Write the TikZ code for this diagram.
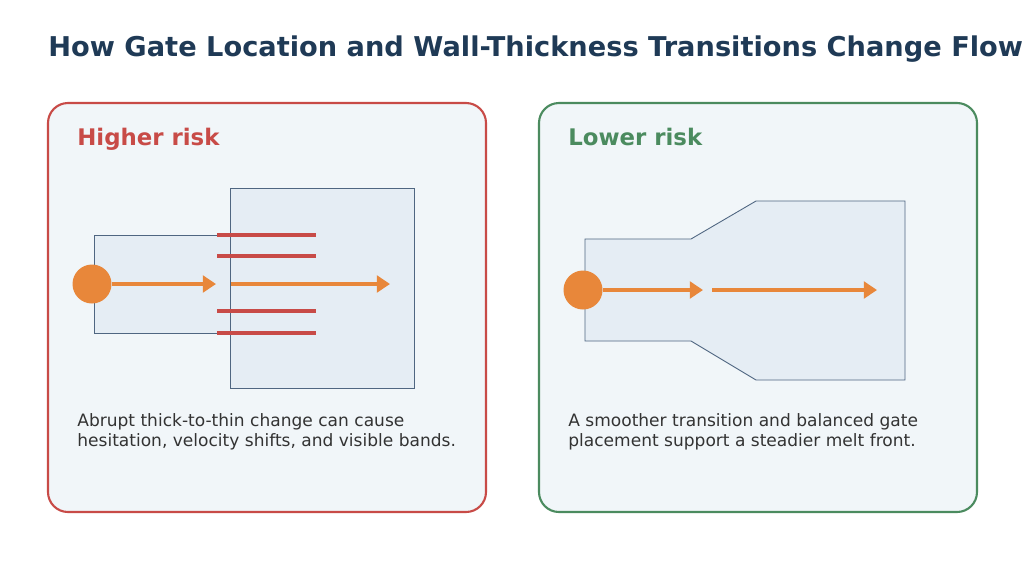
\documentclass[tikz,border=0pt]{standalone}
\usepackage{fontspec}
\setmainfont{DejaVu Sans}
\usepackage{xcolor}
\usetikzlibrary{positioning,arrows.meta}

\definecolor{navy}{HTML}{1F3A56}
\definecolor{riskred}{HTML}{C84B47}
\definecolor{riskgreen}{HTML}{4B8B5F}
\definecolor{panelfill}{HTML}{F1F6F9}
\definecolor{partfill}{HTML}{E5EDF4}
\definecolor{partline}{HTML}{4F6681}
\definecolor{meltorange}{HTML}{E8873A}
\definecolor{notegray}{HTML}{333333}

\begin{document}
\begin{tikzpicture}[x=0.02cm, y=-0.02cm,
    panel/.style={rounded corners=0.4cm, line width=1.2pt, fill=panelfill},
    part/.style={draw=partline, fill=partfill, line width=0.5pt},
    band/.style={draw=riskred, line width=2.3pt},
    gate/.style={circle, fill=meltorange, minimum size=0.78cm, inner sep=0pt},
    flow/.style={draw=meltorange, line width=2.4pt,
                 -{Triangle[length=7.5pt,width=9.5pt]}},
    head/.style={font=\bfseries\fontsize{13}{15}\selectfont, inner sep=0pt,
                 anchor=base west},
    note/.style={font=\fontsize{9.7}{11.4}\selectfont, text=notegray,
                 inner sep=0pt, anchor=north west, align=left},
]
\useasboundingbox[fill=white] (0,0) rectangle (1024,576);

\node[anchor=base west, inner sep=0pt, text=navy,
      font=\bfseries\fontsize{15.5}{18}\selectfont] (title) at (48,56)
      {How Gate Location and Wall-Thickness Transitions Change Flow};

% higher risk panel
\draw[panel, draw=riskred] (48,103) rectangle (486,512);
\node[head, text=riskred] (hL) at (77,145) {Higher risk};
\draw[part] (94,235) rectangle (230,333);
\draw[part] (230,188) rectangle (414,388);
\foreach \yy in {235,256,311,333}
  \draw[band] (217,\yy) -- (316,\yy);
\node[gate] (gL) at (92,284) {};
\coordinate (fL1) at (216,284);
\coordinate (fL2) at (231,284);
\coordinate (fL3) at (390,284);
\draw[flow] (gL) -- (fL1);
\draw[flow] (fL2) -- (fL3);
\node[note] (nL) at (77,413) {Abrupt thick-to-thin change can cause\\
  hesitation, velocity shifts, and visible bands.};

% lower risk panel
\draw[panel, draw=riskgreen] (539,103) rectangle (977,512);
\node[head, text=riskgreen] (hR) at (568,145) {Lower risk};
\draw[part] (585,239) -- (691,239) -- (756,201) -- (905,201) -- (905,380)
  -- (756,380) -- (691,341) -- (585,341) -- cycle;
\node[gate] (gR) at (583,290) {};
\coordinate (fR1) at (703,290);
\coordinate (fR2) at (712,290);
\coordinate (fR3) at (877,290);
\draw[flow] (gR) -- (fR1);
\draw[flow] (fR2) -- (fR3);
\node[note] (nR) at (568,413) {A smoother transition and balanced gate\\
  placement support a steadier melt front.};
\end{tikzpicture}
\end{document}
